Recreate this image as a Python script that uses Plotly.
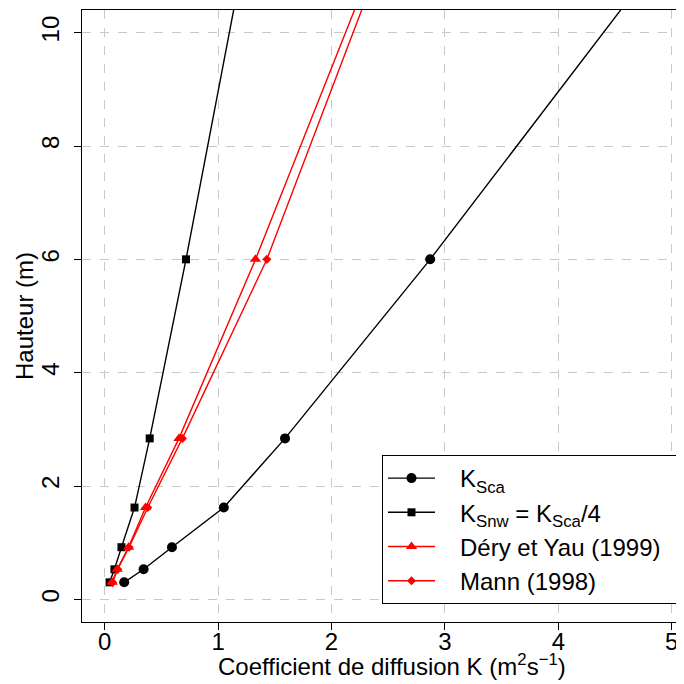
import plotly.graph_objects as go

heights = [0.3, 0.53, 0.92, 1.62, 2.84, 6.0, 12.0]
k_sca = [0.172, 0.343, 0.593, 1.05, 1.59, 2.87, 5.16]
k_snw = [0.043, 0.086, 0.148, 0.263, 0.397, 0.717, 1.29]
k_dery = [0.065, 0.11, 0.21, 0.36, 0.655, 1.33, 2.52]
k_mann = [0.07, 0.115, 0.215, 0.38, 0.685, 1.43, 2.57]

x_ticks = [0, 1, 2, 3, 4, 5]
y_ticks = [0, 2, 4, 6, 8, 10]

FONT = "Liberation Sans, Arial, sans-serif"
OFF = 8  # page body margin offset
W = H = 676
L, R, T, B = 74, 2, 2, 62
PW, PH = W - L - R, H - T - B


def px_x(wx):
    return (wx - OFF - L) / PW


def px_y(wy):
    return (H - B - (wy - OFF)) / PH


NB = "\u00a0"
fig = go.Figure()
series = [
    ("K<sub>Sca</sub>", k_sca, "black", "circle", 10),
    ("K<sub>Snw</sub> = K<sub>Sca</sub>/4", k_snw, "black", "square", 8),
    ("Déry et Yau (1999)" + NB * 3, k_dery, "red", "triangle-up", 10),
    ("Mann (1998)", k_mann, "red", "diamond", 7),
]
for name, xs, col, sym, sz in series:
    fig.add_trace(go.Scatter(
        x=xs, y=heights, name=NB * 3 + name, mode="lines+markers",
        line=dict(color=col, width=1.4),
        marker=dict(color=col, symbol=sym, size=sz),
        cliponaxis=True,
    ))

fig.update_layout(
    width=W, height=H,
    margin=dict(l=L, r=R, t=T, b=B, autoexpand=False),
    paper_bgcolor="white", plot_bgcolor="white",
    font=dict(family=FONT, size=24, color="black"),
    showlegend=True,
    legend=dict(
        x=px_x(382), y=px_y(455), xanchor="left", yanchor="top",
        bgcolor="white", bordercolor="black", borderwidth=1,
        font=dict(size=24), itemwidth=47, tracegroupgap=0,
    ),
    annotations=[
        dict(text="Coefficient de diffusion K (m<sup>2</sup>s<sup>−1</sup>)",
             xref="paper", yref="paper",
             x=px_x(392), y=px_y(665),
             xanchor="center", yanchor="middle", showarrow=False,
             font=dict(size=24)),
        dict(text="Hauteur (m)", xref="paper", yref="paper",
             x=px_x(24), y=0.5, textangle=-90,
             xanchor="center", yanchor="middle", showarrow=False,
             font=dict(size=24)),
    ],
)
fig.update_xaxes(
    range=[-0.2, 5.09], tickvals=x_ticks, ticktext=[str(v) for v in x_ticks],
    showline=True, linecolor="black", linewidth=1, mirror=True,
    ticks="outside", ticklen=7, tickcolor="black",
    showgrid=True, gridcolor="#c8c8c8", griddash="dash", gridwidth=1,
    zeroline=False, automargin=False, ticklabelstandoff=-9,
    tickfont=dict(size=24),
)
fig.update_yaxes(
    range=[-0.4, 10.4], tickvals=y_ticks, ticktext=[str(v) for v in y_ticks],
    showline=True, linecolor="black", linewidth=1, mirror=True,
    ticks="outside", ticklen=7, tickcolor="black",
    showgrid=True, gridcolor="#c8c8c8", griddash="dash", gridwidth=1,
    zeroline=False, tickangle=-90, automargin=False, ticklabelstandoff=5,
    tickfont=dict(size=24),
)

fig.write_html("out.html")
